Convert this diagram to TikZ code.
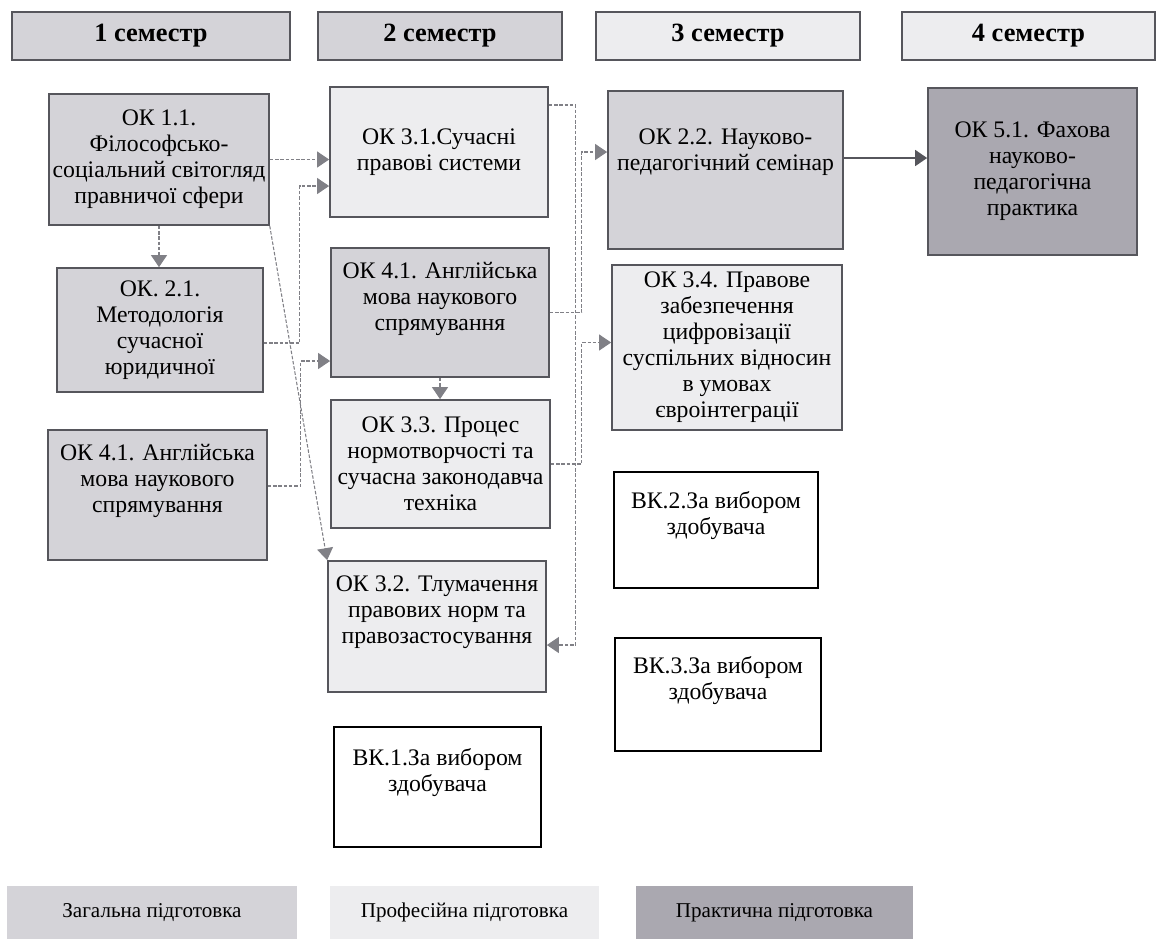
\documentclass[tikz,border=0pt]{standalone}
\usepackage{fontspec}
\setmainfont{Liberation Serif}
\usetikzlibrary{arrows.meta}
\definecolor{zagc}{RGB}{212,211,216}
\definecolor{profc}{RGB}{237,237,239}
\definecolor{prakc}{RGB}{170,168,176}
\definecolor{edgec}{RGB}{86,86,92}
\definecolor{linkc}{RGB}{128,128,134}
\begin{document}
\begin{tikzpicture}[>={Triangle[length=2.4mm,width=3.2mm]},
	box/.style={draw=edgec,line width=1pt,align=center,inner sep=2pt,font=\fontsize{13.5}{14.8}\selectfont},
	zag/.style={box,fill=zagc},
	prof/.style={box,fill=profc},
	prak/.style={box,fill=prakc},
	vk/.style={box,draw=black,fill=white},
	head/.style={box,minimum height=0.96cm,font=\fontsize{15}{17}\selectfont\bfseries},
	leg/.style={minimum height=1.06cm,font=\fontsize{12}{14}\selectfont},
	link/.style={->,draw=linkc,dash pattern=on 2pt off 1pt,line width=0.6pt}]
	\useasboundingbox (0,0) rectangle (23.16,-18.78);
	% semesters
	\node[head,fill=zagc,minimum width=5.56cm] (s1) at (3.02,-0.72) {1 семестр};
	\node[head,fill=zagc,minimum width=4.88cm] (s2) at (8.80,-0.72) {2 семестр};
	\node[head,fill=profc,minimum width=5.28cm] (s3) at (14.56,-0.72) {3 семестр};
	\node[head,fill=profc,minimum width=5.06cm] (s4) at (20.57,-0.72) {4 семестр};
	% 1 semester
	\node[zag,minimum width=4.36cm,minimum height=2.62cm] (ok11) at (3.18,-3.19) {ОК 1.1.\\ Філософсько-\\ соціальний світогляд\\ правничої сфери};
	\node[zag,minimum width=4.12cm,minimum height=2.48cm] (ok21) at (3.20,-6.60) {ОК. 2.1.\\ Методологія\\ сучасної\\ юридичної};
	\node[zag,minimum width=4.38cm,minimum height=2.60cm] (ok41a) at (3.15,-9.90) {ОК 4.1. Англійська\\ мова наукового\\ спрямування\\[4pt]};
	% 2 semester
	\node[prof,minimum width=4.36cm,minimum height=2.60cm] (ok31) at (8.78,-3.04) {ОК 3.1.Сучасні\\ правові системи};
	\node[zag,minimum width=4.36cm,minimum height=2.58cm] (ok41b) at (8.80,-6.25) {ОК 4.1. Англійська\\ мова наукового\\ спрямування\\[4pt]};
	\node[prof,minimum width=4.38cm,minimum height=2.56cm] (ok33) at (8.81,-9.28) {ОК 3.3. Процес\\ нормотворчості та\\ сучасна законодавча\\ техніка};
	\node[prof,minimum width=4.36cm,minimum height=2.62cm] (ok32) at (8.74,-12.53) {ОК 3.2. Тлумачення\\ правових норм та\\ правозастосування\\[4pt]};
	\node[vk,minimum width=4.14cm,minimum height=2.40cm] (vk1) at (8.75,-15.74) {ВК.1.За вибором\\ здобувача\\[4pt]};
	% 3 semester
	\node[zag,minimum width=4.70cm,minimum height=3.16cm] (ok22) at (14.51,-3.40) {ОК 2.2. Науково-\\ педагогічний семінар\\[8pt]};
	\node[prof,minimum width=4.60cm,minimum height=3.30cm] (ok34) at (14.54,-6.95) {ОК 3.4. Правове\\ забезпечення\\ цифровізації\\ суспільних відносин\\ в умовах\\ євроінтеграції};
	\node[vk,minimum width=4.08cm,minimum height=2.32cm] (vk2) at (14.32,-10.60) {ВК.2.За вибором\\ здобувача\\[4pt]};
	\node[vk,minimum width=4.12cm,minimum height=2.26cm] (vk3) at (14.36,-13.89) {ВК.3.За вибором\\ здобувача\\[4pt]};
	% 4 semester
	\node[prak,minimum width=4.18cm,minimum height=3.34cm] (ok51) at (20.65,-3.43) {ОК 5.1. Фахова\\ науково-\\ педагогічна\\ практика};
	% legend
	\node[leg,fill=zagc,minimum width=5.80cm] (lzag) at (3.04,-18.25) {Загальна підготовка};
	\node[leg,fill=profc,minimum width=5.38cm] (lprof) at (9.29,-18.25) {Професійна підготовка};
	\node[leg,fill=prakc,minimum width=5.54cm] (lprak) at (15.49,-18.25) {Практична підготовка};
	% links
	\draw[link] (ok11.south) -- (ok11.south |- ok21.north);
	\draw[link] (ok11.east) -- (ok11.east -| ok31.west);
	\draw[link] ([yshift=-0.26cm]ok21.east) -- ++(0.72,0) |- ([yshift=-0.68cm]ok31.west);
	\draw[link] ([yshift=0.18cm]ok41a.east) -- ++(0.66,0) |- ([yshift=-0.97cm]ok41b.west);
	\draw[link] (ok11.south east) -- (ok32.north west);
	\draw[link] (ok41b.south) -- (ok41b.south |- ok33.north);
	\draw[link] ([yshift=0.94cm]ok31.east) -- ++(0.54,0) |- ([yshift=-0.37cm]ok32.east);
	\draw[link] (ok41b.east) -- ++(0.64,0) |- ([yshift=0.36cm]ok22.west);
	\draw[link] (ok33.east) -- ++(0.62,0) |- ([yshift=0.1cm]ok34.west);
	\draw[->,draw=edgec,line width=1pt] ([yshift=0.24cm]ok22.east) -- ([yshift=0.24cm]ok22.east -| ok51.west);
\end{tikzpicture}
\end{document}
